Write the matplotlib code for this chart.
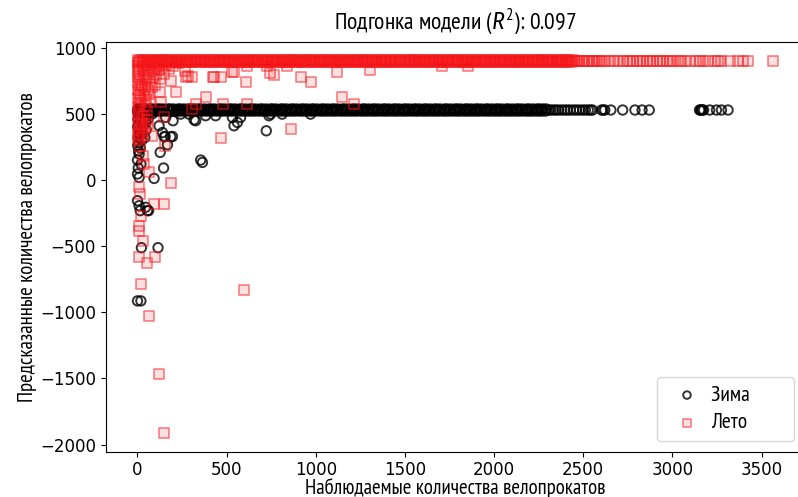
import matplotlib
matplotlib.use("Agg")
import matplotlib.pyplot as plt

# наблюдаемые / предсказанные значения, считанные с картинки
# плотная полоса "зима" (прогноз ~530)
winter_band_hi = [3, 17, 36, 49, 71, 88, 112, 127, 146, 170, 184, 203, 229, 241, 262, 287, 299, 318, 343, 356,
                  377, 401, 414, 433, 458, 472, 491, 516, 529, 548, 574, 586, 607, 631, 645, 664, 689, 702, 723,
                  747, 760, 779, 805, 818, 837, 862, 876, 895, 919, 933, 952, 977, 990, 1009, 1034, 1047, 1068,
                  1092, 1105, 1124, 1149, 1163, 1182, 1206, 1220, 1239, 1264, 1277, 1298, 1321, 1335, 1354, 1379,
                  1392, 1413, 1437, 1450, 1469, 1494, 1508, 1527, 1551, 1565, 1584, 1609, 1622, 1643, 1666, 1680,
                  1699, 1724, 1737, 1758, 1781, 1795, 1814, 1839, 1852, 1873, 1896, 1910, 1929, 1954, 1967, 1988,
                  2011, 2025, 2044, 2069, 2082, 2103, 2126, 2140, 2159, 2184, 2197, 2218, 2241, 2255, 2274, 2292]
winter_band_lo = [9, 28, 42, 60, 79, 97, 119, 136, 157, 176, 193, 215, 234, 251, 273, 292, 308, 331, 349, 366,
                  389, 407, 424, 446, 465, 482, 504, 522, 540, 561, 579, 597, 619, 638, 655, 676, 695, 713, 735,
                  753, 771, 792, 811, 829, 850, 869, 886, 908, 926, 944, 966, 984, 1001, 1023, 1041, 1059, 1080,
                  1099, 1116, 1138, 1156, 1174, 1195, 1214, 1231, 1253, 1271, 1289, 1310, 1329, 1346, 1368, 1386,
                  1404, 1425, 1444, 1461, 1483, 1501, 1519, 1540, 1559, 1576, 1598, 1616, 1634, 1655, 1674, 1691,
                  1713, 1731, 1749, 1770, 1789, 1806, 1828, 1846, 1864, 1885, 1904, 1921, 1943, 1961, 1979, 2000,
                  2019, 2036, 2058, 2076, 2094, 2115, 2134, 2151, 2173, 2191, 2209, 2230, 2249, 2266, 2288]
winter_band_mid = [6, 24, 45, 66, 93, 131, 151, 197, 221, 257, 281, 313, 338, 372, 395, 429, 451, 486, 511,
                   544, 567, 602, 625, 660, 683, 718, 741, 775, 799, 833, 857, 891, 914, 948, 972, 1005, 1029,
                   1063, 1086, 1120, 1144, 1178, 1201, 1235, 1259, 1293, 1316, 1350, 1374, 1408, 1431, 1465,
                   1489, 1523, 1546, 1580, 1604, 1638, 1661, 1695, 1719, 1753, 1776, 1810, 1834, 1868, 1891,
                   1925, 1949, 1983, 2006, 2040, 2064, 2098, 2121, 2155, 2179, 2213, 2236, 2270]
winter_tail = [2305, 2318, 2333, 2347, 2362, 2380, 2396, 2411, 2427, 2446, 2462, 2479, 2497, 2512, 2528, 2541,
               2552, 2603, 2612, 2621, 2655, 2721, 2790, 2830, 2870, 3152, 3158, 3163, 3168, 3175, 3209, 3247,
               3275, 3312]
winter_levels = [536, 520, 528, 528]

winter_scatter = [(1, 520), (5, 500), (10, 480), (3, 460), (15, 440), (8, 420), (2, 400), (20, 380), (6, 360),
                  (12, 340), (4, 320), (25, 300), (9, 280), (2, 260), (17, 240), (7, 220), (30, 500), (40, 470),
                  (55, 490), (70, 510), (85, 500), (100, 520), (45, 440), (60, 460), (35, 410), (50, 380),
                  (28, 350), (42, 320), (10, 195), (20, 120), (1, 45), (10, 19), (1, -157), (10, -195),
                  (47, -207), (63, -232), (16, -232), (57, -232), (23, -512), (116, -512), (1, -914), (20, -914),
                  (128, 208), (365, 132), (147, 90), (94, 11), (723, 371), (197, 328), (156, 328), (169, 266),
                  (159, 472), (200, 447), (318, 454), (383, 485), (439, 485), (533, 472), (579, 472), (561, 434),
                  (542, 409), (738, 485), (122, 409), (141, 358), (747, 497), (812, 497), (971, 497), (187, 326),
                  (150, 326), (243, 497), (290, 497), (327, 447), (355, 150), (1, 150), (5, 90)]

# плотная полоса "лето" (прогноз ~900)
summer_band_hi = [5, 21, 38, 56, 73, 92, 108, 127, 144, 163, 180, 197, 216, 233, 252, 269, 286, 305, 322, 341,
                  358, 375, 394, 411, 430, 447, 464, 483, 500, 519, 536, 553, 572, 589, 608, 625, 642, 661, 678,
                  697, 714, 731, 750, 767, 786, 803, 820, 839, 856, 875, 892, 909, 928, 945, 964, 981, 998, 1017,
                  1034, 1053, 1070, 1087, 1106, 1123, 1142, 1159, 1176, 1195, 1212, 1231, 1248, 1265, 1284, 1301,
                  1320, 1337, 1354, 1373, 1390, 1409, 1426, 1443, 1462, 1479, 1498, 1515, 1532, 1551, 1568, 1587,
                  1604, 1621, 1640, 1657, 1676, 1693, 1710, 1729, 1746, 1765, 1782, 1799, 1818, 1835, 1854, 1871,
                  1888, 1907, 1924, 1943, 1960, 1977, 1996, 2013, 2032, 2049, 2066, 2085, 2102, 2121, 2138, 2155,
                  2174, 2191, 2210, 2227, 2244, 2263, 2280, 2299, 2316, 2333, 2352, 2369, 2388, 2405, 2422, 2441]
summer_band_lo = [12, 30, 47, 64, 83, 100, 118, 135, 153, 171, 189, 207, 224, 242, 260, 278, 296, 313, 331, 349,
                  367, 385, 402, 420, 438, 456, 474, 491, 509, 527, 545, 563, 580, 598, 616, 634, 652, 669, 687,
                  705, 723, 741, 758, 776, 794, 812, 830, 847, 865, 883, 901, 919, 936, 954, 972, 990, 1008, 1025,
                  1043, 1061, 1079, 1097, 1114, 1132, 1150, 1168, 1186, 1203, 1221, 1239, 1257, 1275, 1292, 1310,
                  1328, 1346, 1364, 1381, 1399, 1417, 1435, 1453, 1470, 1488, 1506, 1524, 1542, 1559, 1577, 1595,
                  1613, 1631, 1648, 1666, 1684, 1702, 1720, 1737, 1755, 1773, 1791, 1809, 1826, 1844, 1862, 1880,
                  1898, 1915, 1933, 1951, 1969, 1987, 2004, 2022, 2040, 2058, 2076, 2093, 2111, 2129, 2147, 2165,
                  2182, 2200, 2218, 2236, 2254, 2271, 2289, 2307, 2325, 2343, 2360, 2378, 2396, 2414, 2432]
summer_band_mid = [9, 34, 60, 88, 113, 140, 167, 193, 220, 247, 273, 300, 327, 353, 380, 407, 433, 460, 487,
                   513, 540, 567, 593, 620, 647, 673, 700, 727, 753, 780, 807, 833, 860, 887, 913, 940, 967, 993,
                   1020, 1047, 1073, 1100, 1127, 1153, 1180, 1207, 1233, 1260, 1287, 1313, 1340, 1367, 1393,
                   1420, 1447, 1473, 1500, 1527, 1553, 1580, 1607, 1633, 1660, 1687, 1713, 1740, 1767, 1793,
                   1820, 1847, 1873, 1900, 1927, 1953, 1980, 2007, 2033, 2060, 2087, 2113, 2140, 2167, 2193,
                   2220, 2247, 2273, 2300, 2327, 2353, 2380, 2407, 2433]
summer_tail = [2452, 2463, 2478, 2491, 2506, 2519, 2533, 2548, 2561, 2575, 2588, 2603, 2621, 2650, 2672, 2696,
               2721, 2743, 2762, 2780, 2800, 2818, 2836, 2855, 2873, 2892, 2911, 2929, 2948, 2967, 2985, 3004,
               3032, 3050, 3069, 3097, 3135, 3153, 3172, 3200, 3237, 3256, 3275, 3321, 3368, 3396, 3424, 3564]
summer_levels = [903, 891, 897, 897]

summer_scatter = [(2, 880), (5, 860), (8, 840), (3, 820), (12, 800), (6, 780), (15, 760), (4, 740), (10, 720),
                  (18, 700), (2, 680), (9, 660), (14, 640), (5, 620), (20, 600), (7, 580), (11, 560), (3, 540),
                  (16, 520), (6, 500), (24, 480), (8, 460), (13, 440), (4, 420), (19, 400), (9, 380), (27, 360),
                  (5, 340), (12, 320), (3, 300), (30, 850), (40, 830), (55, 870), (70, 850), (85, 880), (35, 790),
                  (48, 760), (62, 800), (78, 820), (95, 840), (110, 860), (28, 720), (45, 700), (58, 680),
                  (72, 740), (90, 770), (105, 800), (120, 830), (140, 850), (160, 870), (35, 640), (50, 610),
                  (65, 650), (80, 700), (100, 720), (125, 760), (150, 800), (175, 840), (200, 860), (230, 880),
                  (42, 560), (56, 530), (70, 590), (38, 480), (52, 450), (25, 420), (44, 390), (60, 420), (33, 340),
                  (14, 258), (29, 183), (38, 120), (66, 57), (10, 346), (85, 334), (156, 258),
                  (1120, 819), (1303, 829), (1148, 623), (1213, 577), (863, 384), (471, 316), (309, 535),
                  (327, 577), (383, 623), (482, 577), (617, 577), (915, 779), (971, 741), (607, 741), (215, 661),
                  (128, 661), (132, 585), (743, 804), (766, 794), (542, 819), (617, 862), (729, 862), (841, 862),
                  (430, 779), (467, 779), (271, 779), (309, 774), (187, 749), (267, 824), (284, 786), (424, 774),
                  (533, 817), (150, 472), (1708, 860), (1853, 860),
                  (187, -26), (10, -57), (16, -106), (94, -182), (150, -182), (23, -270), (10, -346), (10, -383),
                  (32, -464), (10, -585), (98, -585), (53, -625), (20, -786), (598, -829), (63, -1030),
                  (122, -1470), (150, -1913)]

r2 = 0.097
label_font = ['PT Sans Narrow', 'DejaVu Sans']

plt.rcParams['mathtext.fontset'] = 'custom'
plt.rcParams['mathtext.rm'] = 'PT Sans Narrow'
plt.rcParams['mathtext.it'] = 'Fira Sans Condensed:italic'


def collect(bands, levels, scatter):
    xs, ys = [], []
    for band, lvl in zip(bands, levels):
        xs += band
        ys += [lvl] * len(band)
    for x, y in scatter:
        xs.append(x)
        ys.append(y)
    return xs, ys


wx, wy = collect([winter_band_hi, winter_band_lo, winter_band_mid, winter_tail], winter_levels, winter_scatter)
sx, sy = collect([summer_band_hi, summer_band_lo, summer_band_mid, summer_tail], summer_levels, summer_scatter)

fig = plt.figure(figsize=(7.98, 4.97), dpi=100)
ax = fig.add_axes([0.1325, 0.091, 0.876, 0.825])

ax.scatter(wx, wy, s=46, marker='o', facecolors='none', edgecolors='black',
           linewidths=1.4, alpha=0.8, label='Зима        ')
ax.scatter(sx, sy, s=42, marker='s', facecolors=(1, 0, 0, 0.12), edgecolors=(0.95, 0.1, 0.12, 0.5),
           linewidths=1.3, label='Лето        ')

ax.set_title(f'Подгонка модели ($R^2$): {r2}', fontsize=17, family=label_font, pad=9)
ax.set_xlabel('Наблюдаемые количества велопрокатов', fontsize=15, family=label_font, labelpad=-1)
ax.set_ylabel('Предсказанные количества велопрокатов', fontsize=15, family=label_font, labelpad=2)
ax.tick_params(labelsize=12)
ax.spines['right'].set_visible(False)
ax.legend(loc='lower right', prop={'family': label_font, 'size': 15.5}, markerscale=0.8,
          handletextpad=0.1, borderpad=0.4, labelspacing=0.4)

fig.savefig('out.png', dpi=100)
